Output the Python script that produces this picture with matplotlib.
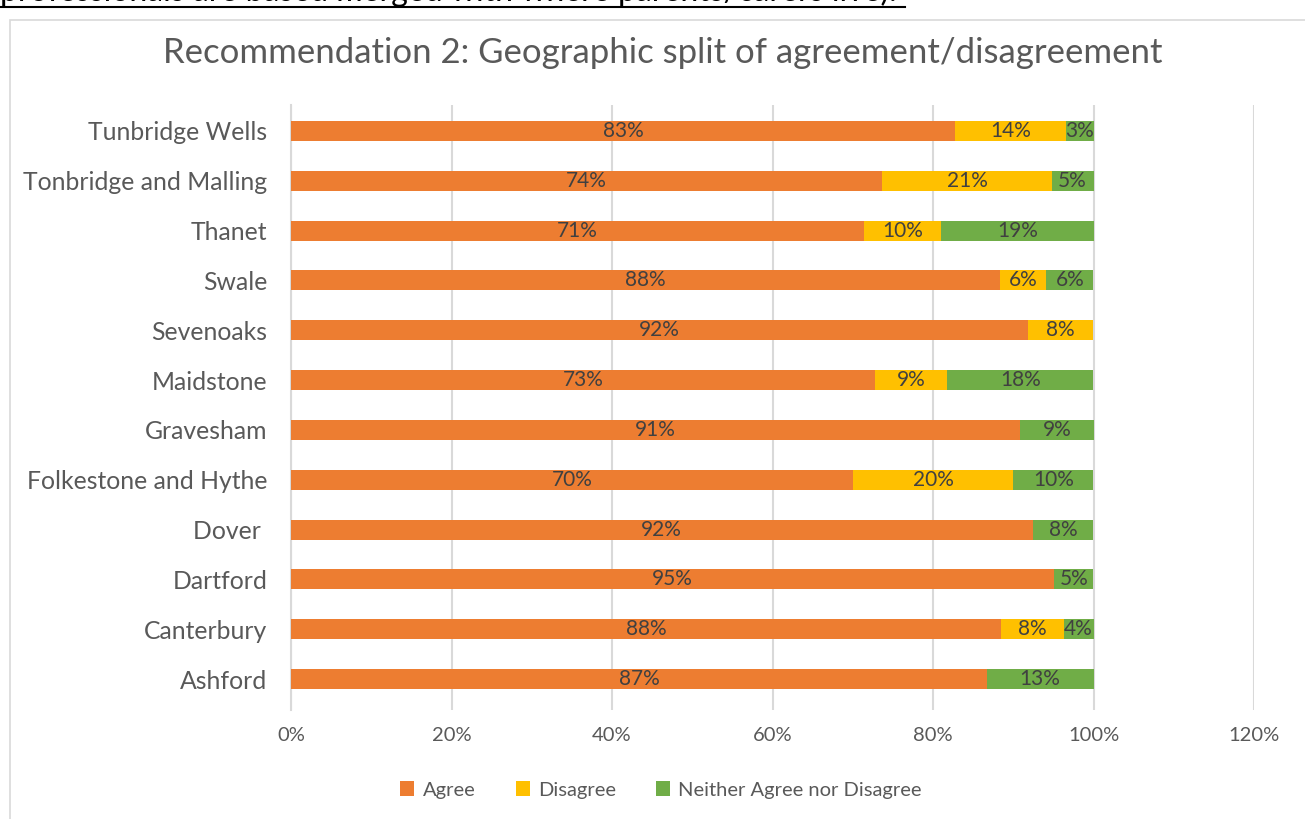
import matplotlib.pyplot as plt
import numpy as np
from matplotlib.patches import Rectangle
from matplotlib.lines import Line2D

plt.rcParams['font.family'] = ['Lato', 'DejaVu Sans']

# districts, bottom to top as drawn
districts = ['Ashford', 'Canterbury', 'Dartford', 'Dover ', 'Folkestone and Hythe',
             'Gravesham', 'Maidstone', 'Sevenoaks', 'Swale', 'Thanet',
             'Tonbridge and Malling', 'Tunbridge Wells']
agree = [86.7, 88.5, 95.1, 92.4, 70.0, 90.9, 72.8, 91.8, 88.3, 71.4, 73.7, 82.8]
disagree = [0, 7.8, 0, 0, 20.0, 0, 9.0, 8.2, 5.8, 9.6, 21.1, 13.8]
neither = [13.3, 3.7, 4.9, 7.6, 10.0, 9.1, 18.2, 0, 5.9, 19.0, 5.2, 3.4]

series = [('Agree', agree, '#ED7D31'),
          ('Disagree', disagree, '#FFC000'),
          ('Neither Agree nor Disagree', neither, '#70AD47')]

W, H = 1305, 819
fig = plt.figure(figsize=(W / 100, H / 100), dpi=100)
ax = fig.add_axes([291 / W, 1 - 710 / H, (1254 - 291) / W, (710 - 105) / H])

# cut-off line of document text above the chart (cropped in the reference too)
fig.text(0, 1 + 9 / H, 'professionals are based merged with where parents/carers live).',
         ha='left', va='center', fontsize=23, color='black')
fig.lines.append(Line2D([0, 905 / W], [1 - 7 / H, 1 - 7 / H], transform=fig.transFigure,
                        color='black', linewidth=1.5))

# chart border like the Excel chart area
fig.patches.append(Rectangle((10 / W, -0.01), 1.1, 1 - 20 / H + 0.01,
                             transform=fig.transFigure, fill=False,
                             edgecolor='#D9D9D9', linewidth=1.2))

y = np.arange(len(districts))
left = np.zeros(len(districts))
for name, vals, color in series:
    vals = np.array(vals) / 100
    bars = ax.barh(y, vals, left=left, height=0.4, color=color, label=name, zorder=3)
    for b, v in zip(bars, vals):
        if v > 0:
            ax.text(b.get_x() + b.get_width() / 2, b.get_y() + b.get_height() / 2,
                    f'{round(v * 100):.0f}%', ha='center', va='center',
                    fontsize=15, color='#404040', zorder=4)
    left += vals

ax.set_xlim(0, 1.2)
ax.set_ylim(-0.62, len(districts) - 0.48)
ax.set_xticks(np.arange(0, 1.21, 0.2))
ax.set_xticklabels([f'{int(round(t * 100))}%' for t in np.arange(0, 1.21, 0.2)])
ax.set_yticks(y)
ax.set_yticklabels(districts)
ax.tick_params(axis='x', labelsize=14.5, colors='#595959', length=0, pad=12)
ax.tick_params(axis='y', labelsize=17.8, colors='#595959', length=0, pad=17)
ax.grid(axis='x', color='#D9D9D9', linewidth=1.5, zorder=0)
for s in ['top', 'right', 'bottom']:
    ax.spines[s].set_visible(False)
ax.spines['left'].set_color('#D9D9D9')
ax.spines['left'].set_linewidth(1.5)

fig.text(663 / W, 1 - 53 / H, 'Recommendation 2: Geographic split of agreement/disagreement',
         ha='center', va='center', fontsize=25, color='#595959')

fig.legend(loc='center', bbox_to_anchor=(661 / W, 1 - 790 / H), ncol=3,
           frameon=False, fontsize=14.5, labelcolor='#595959',
           handlelength=0.7, handleheight=0.7, handletextpad=0.4, columnspacing=2.0)

fig.savefig('out.png', dpi=100)
